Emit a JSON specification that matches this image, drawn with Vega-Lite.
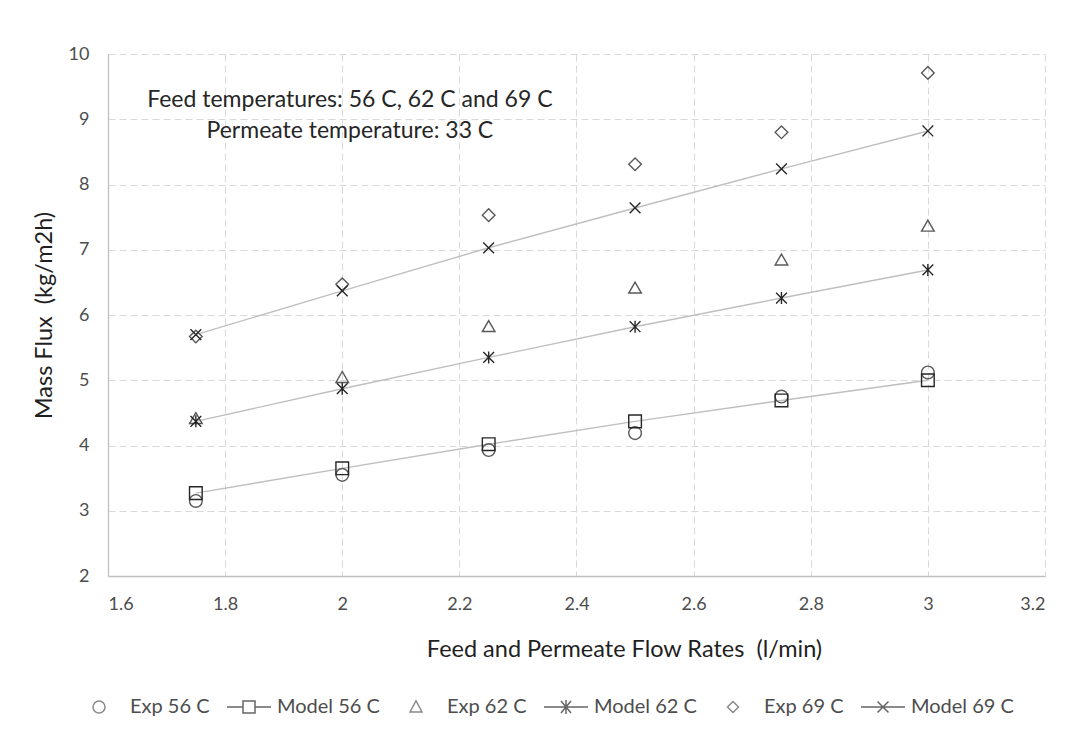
{
  "$schema": "https://vega.github.io/schema/vega-lite/v6.json",
  "autosize": {"type": "none"},
  "width": 937,
  "height": 522,
  "padding": {"left": 108, "top": 54, "right": 25, "bottom": 162},
  "background": "white",
  "config": {
    "view": {"stroke": null},
    "font": "Lato",
    "axis": {
      "grid": true,
      "gridColor": "#d9d9d9",
      "gridDash": [7, 4],
      "gridWidth": 1,
      "domainColor": "#bfbfbf",
      "domainWidth": 1.3,
      "ticks": false,
      "labelFont": "Lato",
      "labelFontSize": 18,
      "labelColor": "#4d4d4d",
      "labelPadding": 19,
      "titleFont": "Lato",
      "titleFontSize": 23.5,
      "titleFontWeight": "normal",
      "titleColor": "#1f1f1f"
    },
    "legend": {
      "orient": "none",
      "legendX": -32,
      "legendY": 627,
      "direction": "horizontal",
      "padding": 0,
      "symbolOffset": 0,
      "labelOffset": 2,
      "columnPadding": 13,
      "labelFont": "Lato",
      "labelFontSize": 20,
      "labelColor": "#4d4d4d",
      "symbolSize": 2500,
      "symbolStrokeWidth": 1.5
    }
  },
  "resolve": {"scale": {"shape": "independent", "color": "independent"}},
  "datasets": {
    "flux": [
      {"flow": 1.75, "flux": 3.15, "series": "Exp 56 C"},
      {"flow": 2.0, "flux": 3.55, "series": "Exp 56 C"},
      {"flow": 2.25, "flux": 3.93, "series": "Exp 56 C"},
      {"flow": 2.5, "flux": 4.19, "series": "Exp 56 C"},
      {"flow": 2.75, "flux": 4.75, "series": "Exp 56 C"},
      {"flow": 3.0, "flux": 5.12, "series": "Exp 56 C"},
      {"flow": 1.75, "flux": 3.27, "series": "Model 56 C"},
      {"flow": 2.0, "flux": 3.65, "series": "Model 56 C"},
      {"flow": 2.25, "flux": 4.02, "series": "Model 56 C"},
      {"flow": 2.5, "flux": 4.37, "series": "Model 56 C"},
      {"flow": 2.75, "flux": 4.69, "series": "Model 56 C"},
      {"flow": 3.0, "flux": 5.0, "series": "Model 56 C"},
      {"flow": 1.75, "flux": 4.42, "series": "Exp 62 C"},
      {"flow": 2.0, "flux": 5.05, "series": "Exp 62 C"},
      {"flow": 2.25, "flux": 5.83, "series": "Exp 62 C"},
      {"flow": 2.5, "flux": 6.42, "series": "Exp 62 C"},
      {"flow": 2.75, "flux": 6.85, "series": "Exp 62 C"},
      {"flow": 3.0, "flux": 7.37, "series": "Exp 62 C"},
      {"flow": 1.75, "flux": 4.37, "series": "Model 62 C"},
      {"flow": 2.0, "flux": 4.87, "series": "Model 62 C"},
      {"flow": 2.25, "flux": 5.35, "series": "Model 62 C"},
      {"flow": 2.5, "flux": 5.82, "series": "Model 62 C"},
      {"flow": 2.75, "flux": 6.26, "series": "Model 62 C"},
      {"flow": 3.0, "flux": 6.69, "series": "Model 62 C"},
      {"flow": 1.75, "flux": 5.67, "series": "Exp 69 C"},
      {"flow": 2.0, "flux": 6.47, "series": "Exp 69 C"},
      {"flow": 2.25, "flux": 7.53, "series": "Exp 69 C"},
      {"flow": 2.5, "flux": 8.31, "series": "Exp 69 C"},
      {"flow": 2.75, "flux": 8.8, "series": "Exp 69 C"},
      {"flow": 3.0, "flux": 9.71, "series": "Exp 69 C"},
      {"flow": 1.75, "flux": 5.7, "series": "Model 69 C"},
      {"flow": 2.0, "flux": 6.37, "series": "Model 69 C"},
      {"flow": 2.25, "flux": 7.03, "series": "Model 69 C"},
      {"flow": 2.5, "flux": 7.64, "series": "Model 69 C"},
      {"flow": 2.75, "flux": 8.24, "series": "Model 69 C"},
      {"flow": 3.0, "flux": 8.82, "series": "Model 69 C"}
    ],
    "notes": [
      {"flow": 2.013, "flux": 9.3, "note": "Feed temperatures: 56 C, 62 C and 69 C"},
      {"flow": 2.013, "flux": 8.82, "note": "Permeate temperature: 33 C"}
    ]
  },
  "layer": [
    {
      "data": {"name": "notes"},
      "mark": {"type": "text", "align": "center", "baseline": "middle", "font": "Lato", "fontSize": 23, "color": "#262626"},
      "encoding": {
        "x": {"field": "flow", "type": "quantitative"},
        "y": {"field": "flux", "type": "quantitative"},
        "text": {"field": "note", "type": "nominal"}
      }
    },
    {
      "data": {"name": "flux"},
      "transform": [{"filter": "indexof(datum.series, 'Model') === 0"}],
      "mark": {"type": "line", "color": "#bfbfbf", "strokeWidth": 1.4},
      "encoding": {
        "x": {"field": "flow", "type": "quantitative"},
        "y": {"field": "flux", "type": "quantitative"},
        "detail": {"field": "series", "type": "nominal"}
      }
    },
    {
      "data": {"name": "flux"},
      "mark": {"type": "point", "filled": false, "strokeWidth": 1.4, "size": 160, "opacity": 1},
      "encoding": {
        "x": {
          "field": "flow", "type": "quantitative",
          "scale": {"domain": [1.6, 3.2], "nice": false, "zero": false},
          "axis": {"values": [1.6, 1.8, 2, 2.2, 2.4, 2.6, 2.8, 3, 3.2], "format": "~g", "title": "Feed and Permeate Flow Rates \u00a0(l/min)", "titlePadding": 24, "titleX": 516}
        },
        "y": {
          "field": "flux", "type": "quantitative",
          "scale": {"domain": [2, 10], "nice": false, "zero": false},
          "axis": {"values": [2, 3, 4, 5, 6, 7, 8, 9, 10], "format": "d", "title": "Mass Flux \u00a0(kg/m2h)", "titlePadding": 12}
        },
        "shape": {
          "field": "series", "type": "nominal",
          "scale": {
            "domain": ["Exp 56 C", "Model 56 C", "Exp 62 C", "Model 62 C", "Exp 69 C", "Model 69 C"],
            "range": ["circle", "square", "triangle-up", "M-0.85,-0.85L0.85,0.85M-0.85,0.85L0.85,-0.85M0,-0.95V0.95", "diamond", "M-0.85,-0.85L0.85,0.85M-0.85,0.85L0.85,-0.85"]
          },
          "legend": null
        },
        "color": {
          "field": "series", "type": "nominal",
          "scale": {
            "domain": ["Exp 56 C", "Model 56 C", "Exp 62 C", "Model 62 C", "Exp 69 C", "Model 69 C"],
            "range": ["#595959", "#262626", "#595959", "#262626", "#595959", "#262626"]
          },
          "legend": null
        }
      }
    },
    {
      "data": {"name": "flux"},
      "transform": [{"filter": "false"}],
      "mark": {"type": "point", "filled": false, "strokeWidth": 1.5},
      "encoding": {
        "x": {"field": "flow", "type": "quantitative"},
        "y": {"field": "flux", "type": "quantitative"},
        "shape": {
          "field": "series", "type": "nominal",
          "scale": {
            "domain": ["Exp 56 C", "Model 56 C", "Exp 62 C", "Model 62 C", "Exp 69 C", "Model 69 C"],
            "range": [
              "M0.12,0A0.24,0.24 0 1,1 -0.36,0A0.24,0.24 0 1,1 0.12,0Z",
              "M-0.88,0H-0.24M0.24,0H0.88M-0.24,-0.24H0.24V0.24H-0.24Z",
              "M-0.12,-0.25L0.12,0.2H-0.36Z",
              "M-0.88,0H0.88M-0.2,-0.24L0.2,0.24M-0.2,0.24L0.2,-0.24M0,-0.28V0.28",
              "M-0.12,-0.22L0.1,0L-0.12,0.22L-0.34,0Z",
              "M-0.88,0H0.88M-0.22,-0.22L0.22,0.22M-0.22,0.22L0.22,-0.22"
            ]
          },
          "legend": {"title": null}
        },
        "color": {
          "field": "series", "type": "nominal",
          "scale": {
            "domain": ["Exp 56 C", "Model 56 C", "Exp 62 C", "Model 62 C", "Exp 69 C", "Model 69 C"],
            "range": ["#595959", "#262626", "#595959", "#262626", "#595959", "#262626"]
          },
          "legend": {"title": null}
        }
      }
    }
  ]
}
